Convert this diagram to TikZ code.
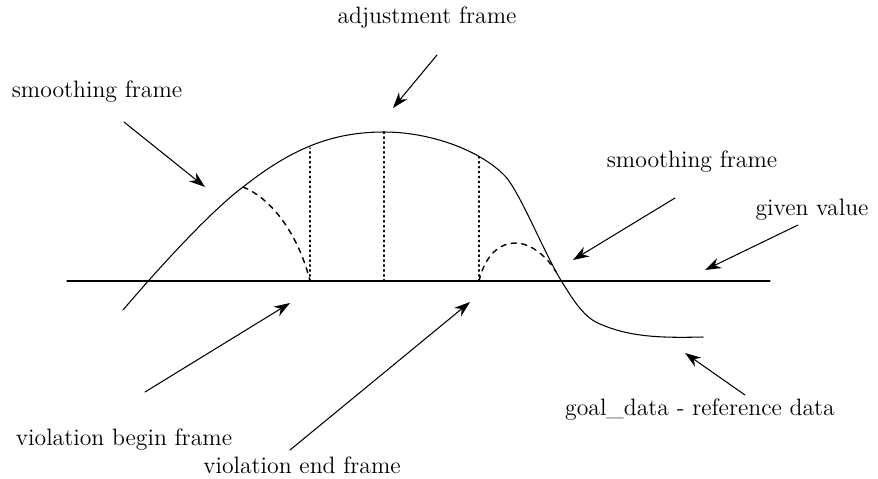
\documentclass[tikz,border=0pt]{standalone}
\usetikzlibrary{arrows.meta}

\begin{document}
\begin{tikzpicture}[x=0.02cm,y=-0.02cm,>={Stealth[length=3.2mm,width=2.2mm]},
  font=\fontsize{13.5}{16}\selectfont,line cap=round,
  lbl/.style={inner sep=0pt},
  pointer/.style={->,semithick}]
\useasboundingbox (0,0) rectangle (878,478);
% given value line
\draw[semithick] (67,281) -- (770,281);
% goal data curve
\draw[semithick] (123,310) .. controls (170,255) and (215,208) .. (243,187)
  .. controls (290,150) and (330,132) .. (384,132)
  .. controls (430,132) and (480,150) .. (505,176)
  .. controls (520,192) and (545,255) .. (562,282)
  .. controls (575,303) and (585,318) .. (600,324)
  .. controls (630,337) and (660,338) .. (703,337);
% smoothing frames
\draw[thick,dashed] (243,187) .. controls (275,200) and (300,240) .. (310,281);
\draw[thick,dashed] (479,281) .. controls (485,255) and (500,243) .. (515,243)
  .. controls (532,243) and (548,258) .. (556,272);
% frame marks
\draw[dotted,thick] (310,281) -- (310,148);
\draw[dotted,thick] (384,281) -- (384,132);
\draw[dotted,thick] (479,281) -- (479,157);
% labels
\node[lbl] (adj) at (427,18) {adjustment frame};
\node[lbl] (smoothl) at (97,92) {smoothing frame};
\node[lbl] (smoothr) at (692,162) {smoothing frame};
\node[lbl] (given) at (812,210) {given value};
\node[lbl] (vbegin) at (124,440) {violation begin frame};
\node[lbl] (vend) at (302,465) {violation end frame};
\node[lbl] (goal) at (700,410) {goal\_data - reference data};
% arrow ends
\coordinate (adjtip) at (393,108);
\coordinate (smoothltip) at (205,187);
\coordinate (smoothrtip) at (573,260);
\coordinate (giventip) at (705,270);
\coordinate (vbegintip) at (290,303);
\coordinate (vendtip) at (470,302);
\coordinate (goaltip) at (685,353);
\draw[pointer] (437,55) -- (adjtip);
\draw[pointer] (124,122) -- (smoothltip);
\draw[pointer] (675,198) -- (smoothrtip);
\draw[pointer] (798,225) -- (giventip);
\draw[pointer] (145,392) -- (vbegintip);
\draw[pointer] (290,450) -- (vendtip);
\draw[pointer] (745,395) -- (goaltip);
\end{tikzpicture}
\end{document}
